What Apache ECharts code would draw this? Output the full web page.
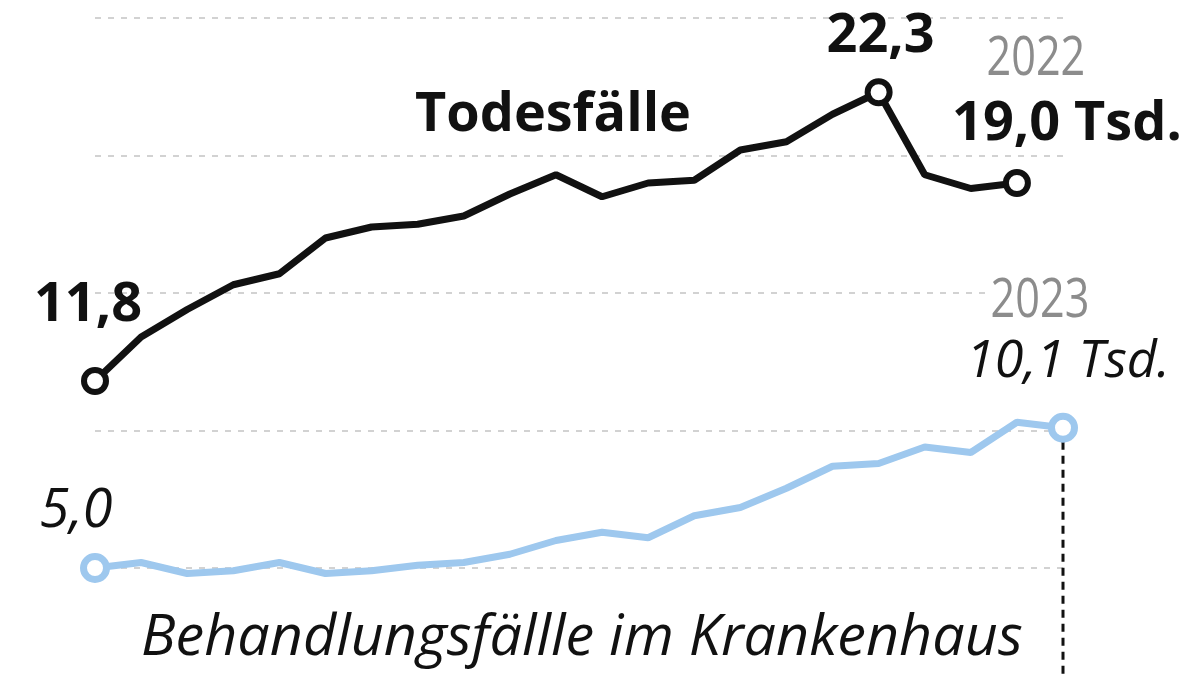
<!DOCTYPE html>
<html>
<head>
<meta charset="utf-8">
<script src="https://cdn.jsdelivr.net/npm/echarts@6/dist/echarts.min.js"></script>
<style>
  html, body { margin: 0; padding: 0; background: #fff; }
  #container { width: 1200px; height: 675px; }
</style>
</head>
<body>
<div id="container"></div>
<script>
// Jahre 2002 bis 2023
const years = ['2002', '2003', '2004', '2005', '2006', '2007', '2008', '2009', '2010', '2011',
    '2012', '2013', '2014', '2015', '2016', '2017', '2018', '2019', '2020', '2021', '2022', '2023'];

// Todesfälle in Tsd. (bis 2022)
const deaths = [11.8, 13.4, 14.4, 15.3, 15.7, 17.0, 17.4, 17.5, 17.8, 18.6,
    19.3, 18.5, 19.0, 19.1, 20.2, 20.5, 21.5, 22.3, 19.3, 18.8, 19.0];

// Behandlungsfälle im Krankenhaus in Tsd. (bis 2023)
const hospital = [5.0, 5.2, 4.8, 4.9, 5.2, 4.8, 4.9, 5.1, 5.2, 5.5,
    6.0, 6.3, 6.1, 6.9, 7.2, 7.9, 8.7, 8.8, 9.4, 9.2, 10.3, 10.1];

const yTicks = [5, 10, 15, 20, 25];

const BLACK = '#111111';
const BLUE = '#9ec8ee';
const GREY = '#8c8c8c';
const FONT = '"Open Sans", "Noto Sans", sans-serif';

const fmt = v => v.toFixed(1).replace('.', ',');

window.onload = function () {
    const dom = document.getElementById('container');
    const myChart = echarts.init(dom);

    const deathPeak = deaths.indexOf(Math.max.apply(null, deaths));
    const deathLast = deaths.length - 1;
    const hospLast = hospital.length - 1;

    const boldLabel = {
        fontFamily: FONT, fontWeight: 'bold', fontSize: 54, color: BLACK
    };

    function dot(color, size, border) {
        return {
            symbol: 'circle', symbolSize: size,
            itemStyle: { color: '#fff', borderColor: color, borderWidth: border }
        };
    }

    const deathData = deaths.map(function (v, i) {
        const item = { value: v, symbol: 'none' };
        if (i === 0 || i === deathPeak || i === deathLast) {
            Object.assign(item, dot(BLACK, 22, 6));
        }
        if (i === 0) {
            item.label = Object.assign({ show: true, position: 'inside', offset: [-7, -75],
                formatter: fmt(v) }, boldLabel);
        } else if (i === deathPeak) {
            item.label = Object.assign({ show: true, position: 'inside', offset: [2, -56],
                formatter: fmt(v) }, boldLabel);
        } else if (i === deathLast) {
            item.label = Object.assign({ show: true, position: 'inside', offset: [50, -58],
                formatter: fmt(v) + ' Tsd.' }, boldLabel);
        }
        return item;
    });

    const hospData = hospital.map(function (v, i) {
        const item = { value: v, symbol: 'none' };
        if (i === 0 || i === hospLast) {
            Object.assign(item, dot(BLUE, 23, 7));
        }
        if (i === 0) {
            item.label = { show: true, position: 'inside', offset: [-19, -56],
                formatter: fmt(v), fontFamily: FONT, fontStyle: 'italic',
                fontSize: 54, color: BLACK };
        } else if (i === hospLast) {
            item.label = { show: true, position: 'inside', offset: [5, -66],
                formatter: fmt(v) + ' Tsd.', fontFamily: FONT, fontStyle: 'italic',
                fontSize: 52, color: BLACK };
        }
        return item;
    });

    const option = {
        animation: false,
        backgroundColor: '#fff',
        grid: { left: 95, width: 968, top: 18, height: 550 },
        xAxis: {
            type: 'category',
            data: years,
            boundaryGap: false,
            axisLine: { show: false },
            axisTick: { show: false },
            axisLabel: { show: false },
            splitLine: { show: false }
        },
        yAxis: {
            type: 'value',
            min: yTicks[0],
            max: yTicks[yTicks.length - 1],
            interval: yTicks[1] - yTicks[0],
            axisLine: { show: false },
            axisTick: { show: false },
            axisLabel: { show: false },
            splitLine: {
                show: true,
                lineStyle: { color: '#d2d2d2', width: 2, type: [6, 7] }
            }
        },
        series: [
            {
                name: 'Behandlungsfälle',
                type: 'line',
                data: hospData,
                clip: false,
                z: 2,
                lineStyle: { color: BLUE, width: 7 },
                itemStyle: { color: BLUE },
                emphasis: { disabled: true }
            },
            {
                name: 'Todesfälle',
                type: 'line',
                data: deathData,
                clip: false,
                z: 3,
                lineStyle: { color: BLACK, width: 7 },
                itemStyle: { color: BLACK },
                emphasis: { disabled: true }
            }
        ]
    };

    myChart.setOption(option);

    // Endpunkte in Pixel, für Jahreszahlen und die senkrechte Linie
    const deathEnd = myChart.convertToPixel({ seriesIndex: 1 }, [deathLast, deaths[deathLast]]);
    const hospEnd = myChart.convertToPixel({ seriesIndex: 0 }, [hospLast, hospital[hospLast]]);

    function yearText(txt, x, y, withBg) {
        return {
            type: 'text', x: x, y: y, scaleX: 0.8, z: 9,
            style: {
                text: txt, fontFamily: FONT, fontSize: 54, fill: GREY,
                align: 'center', verticalAlign: 'middle',
                backgroundColor: withBg ? '#fff' : null, padding: withBg ? [0, 6] : 0
            }
        };
    }

    myChart.setOption({
        graphic: [
            {
                type: 'text', left: 415, top: 89, z: 10,
                style: { text: 'Todesfälle', fontFamily: FONT, fontWeight: 'bold',
                    fontSize: 54, fill: BLACK }
            },
            {
                type: 'text', left: 141, top: 610, z: 10,
                style: { text: 'Behandlungsfällle im Krankenhaus', fontFamily: FONT,
                    fontStyle: 'italic', fontSize: 57.5, fill: BLACK }
            },
            yearText(years[deathLast], deathEnd[0] + 19, deathEnd[1] - 123, false),
            yearText(years[hospLast], hospEnd[0] - 23, hospEnd[1] - 126, true),
            {
                type: 'line', z: 1,
                shape: { x1: hospEnd[0], y1: hospEnd[1] + 14, x2: hospEnd[0], y2: 675 },
                style: { stroke: BLACK, lineWidth: 3, lineDash: [8, 6] }
            }
        ]
    });
};
</script>
</body>
</html>
